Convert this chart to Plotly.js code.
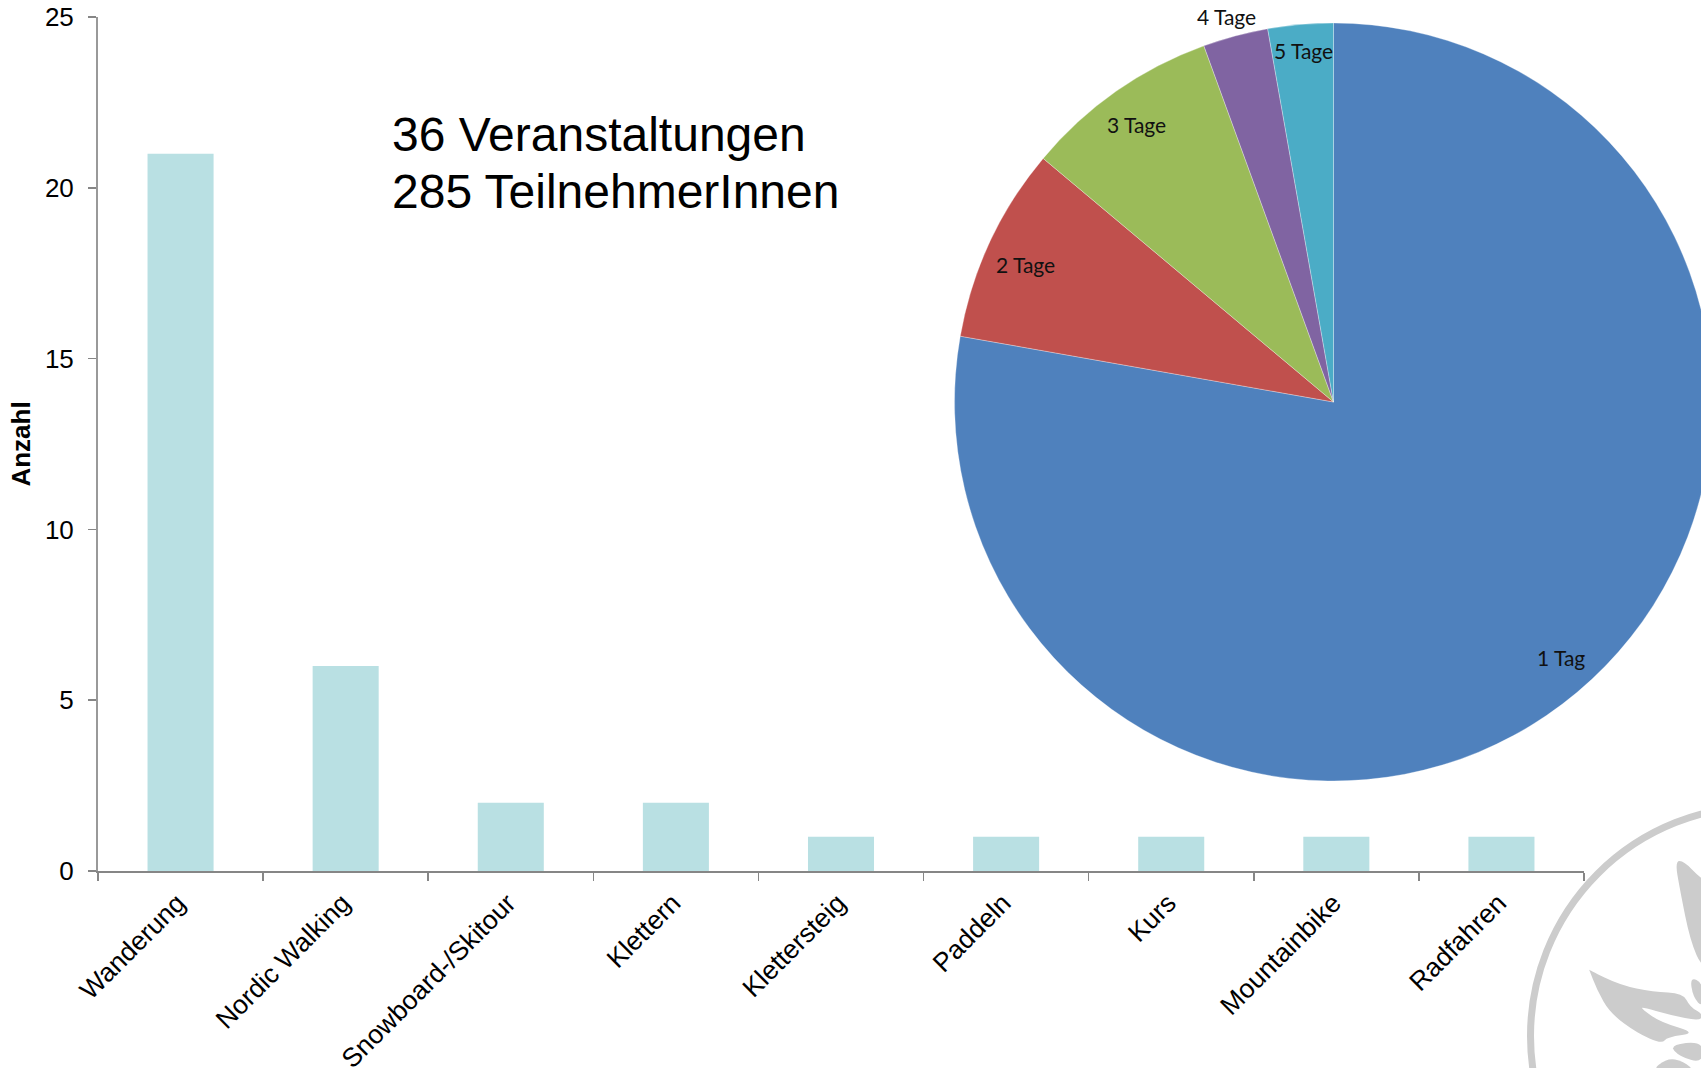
<!DOCTYPE html>
<html>
<head>
<meta charset="utf-8">
<script src="https://cdn.plot.ly/plotly-3.0.1.min.js"></script>
<style>html,body{margin:0;padding:0;width:1701px;height:1068px;overflow:hidden;background:#fff}</style>
</head>
<body>
<div id="chart"></div>
<script>
const categories = ["Wanderung","Nordic Walking","Snowboard-/Skitour","Klettern","Klettersteig","Paddeln","Kurs","Mountainbike","Radfahren"];
const counts = [21,6,2,2,1,1,1,1,1];
const yTicks = [0,5,10,15,20,25];
const dayLabels = ["1 Tag","2 Tage","3 Tage","4 Tage","5 Tage"];
const dayValues = [28,3,3,1,1];
const dayColors = ["#4F81BD","#C0504D","#9BBB59","#8064A2","#4BACC6"];
const headline = ["36 Veranstaltungen","285 TeilnehmerInnen"];

const W=1800,H=1068,L=98,R=0,T=17,B=H-871,axisRight=1584;
const px=x=>(x-L)/(W-L-R), py=y=>1-(y-T)/(H-T-B);
const pieCx=1333.5,pieCy=402,pieR=379;

function blob(points){
  const n=points.length, m=(a,b)=>[(a[0]+b[0])/2,(a[1]+b[1])/2];
  let s=m(points[n-1],points[0]);
  let d=`M${px(s[0])},${py(s[1])}`;
  for(let i=0;i<n;i++){const p=points[i],q=m(p,points[(i+1)%n]);d+=` Q${px(p[0])},${py(p[1])} ${px(q[0])},${py(q[1])}`;}
  return d+" Z";
}
const logoLeaves=[
 [[1675,861],[1680,890],[1690,940],[1703,970],[1720,960],[1720,890],[1700,878],[1684,861]],
 [[1589,969],[1589,970],[1620,985],[1653,992],[1683,993],[1690,1007],[1703,1014],[1700,1021],[1670,1015],[1642,1007],[1642,1009],[1660,1022],[1697,1033],[1667,1037],[1662,1044],[1637,1033],[1610,1013],[1597,990]],
 [[1690,977],[1703,983],[1703,1008],[1693,997]],
 [[1669,1045],[1703,1041],[1703,1063],[1680,1057]],
 [[1650,1072],[1667,1058],[1683,1061],[1696,1072]]
];
const logoShapes=logoLeaves.map(p=>({type:"path",xref:"paper",yref:"paper",path:blob(p),fillcolor:"#CCCCCC",line:{width:0},layer:"below"}));
logoShapes.push({type:"circle",xref:"paper",yref:"paper",x0:px(1760-229.5),x1:px(1760+229.5),y0:py(1036+229.5),y1:py(1036-229.5),line:{color:"#CCCCCC",width:7},fillcolor:"rgba(0,0,0,0)",layer:"below"});

const labelPos=[[1561,657],[1025,264],[1136,124],[1226,16],[1303,50]];
const pieNotes=dayLabels.map((t,i)=>({text:t,xref:"paper",yref:"paper",x:px(labelPos[i][0]),y:py(labelPos[i][1]),showarrow:false,xanchor:"center",yanchor:"middle",font:{family:"Lato, 'Open Sans', sans-serif",size:21,color:"#111111"}}));
const headNotes=headline.map((t,i)=>({text:t,xref:"paper",yref:"paper",x:px(390),y:py(i?191.5:134.5),showarrow:false,xanchor:"left",yanchor:"middle",font:{family:"'Liberation Sans', Arial, sans-serif",size:48,color:"#000"}}));

const traces=[
 {type:"bar",x:categories,y:counts,width:0.4,marker:{color:"#B9E0E3"},hoverinfo:"x+y"},
 {type:"pie",labels:dayLabels,values:dayValues,sort:false,direction:"clockwise",rotation:0,textinfo:"none",
  marker:{colors:dayColors,line:{color:"rgba(255,255,255,0.3)",width:1}},showlegend:false,
  domain:{x:[px(pieCx-pieR),px(pieCx+pieR)],y:[py(pieCy+pieR),py(pieCy-pieR)]}}
];
const tickFont=(s)=>({family:"'Liberation Sans', Arial, sans-serif",size:s,color:"#000"});
const layout={
 width:W,height:H,margin:{l:L,r:R,t:T,b:B,pad:0},autosize:false,showlegend:false,
 paper_bgcolor:"#fff",plot_bgcolor:"rgba(0,0,0,0)",
 xaxis:{domain:[0,px(axisRight)],type:"category",categoryorder:"array",categoryarray:categories,tickson:"boundaries",tickangle:-45,ticks:"outside",ticklen:8,tickwidth:1.5,tickcolor:"#868686",
   showline:true,linecolor:"#868686",linewidth:2,showgrid:false,zeroline:false,tickfont:tickFont(26.5),automargin:false,ticklabelstandoff:4,ticklabelshift:-3},
 yaxis:{range:[0,25],tickvals:yTicks,ticks:"outside",ticklen:8,tickwidth:1.5,tickcolor:"#868686",showline:true,linecolor:"#999999",linewidth:2,showgrid:false,zeroline:false,
   tickfont:tickFont(26),ticklabelstandoff:9,automargin:false,title:{text:"<b>Anzahl</b>",standoff:7,font:{family:"'Liberation Sans', Arial, sans-serif",size:26,color:"#000"}}},
 shapes:logoShapes,
 annotations:headNotes.concat(pieNotes)
};
Plotly.newPlot("chart",traces,layout,{displayModeBar:false,staticPlot:true});
</script>
</body>
</html>
